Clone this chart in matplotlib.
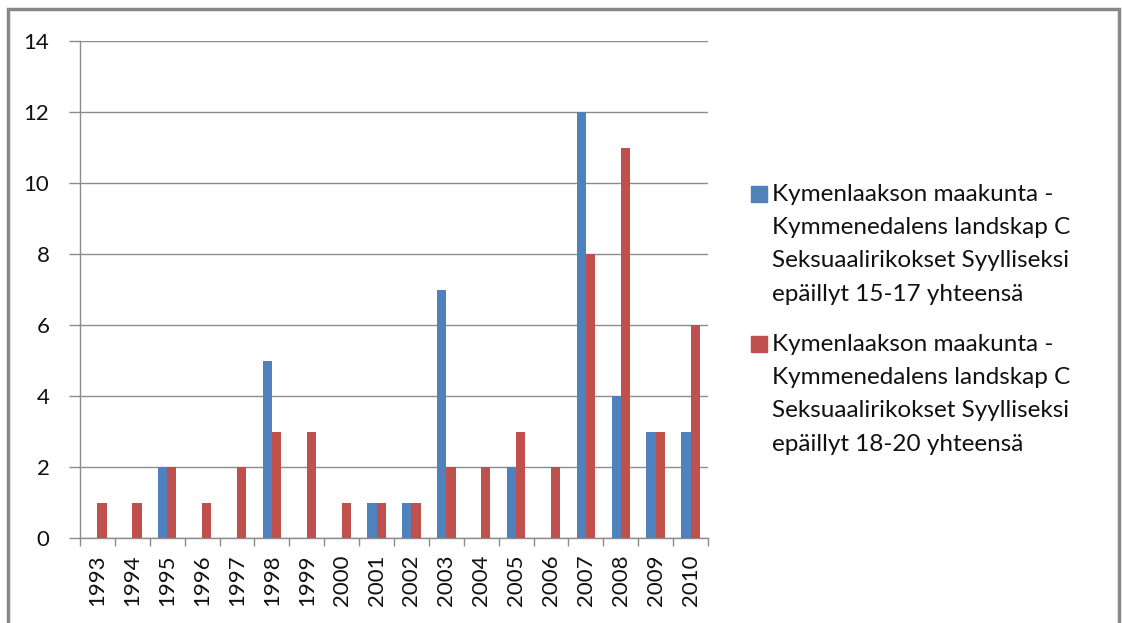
import numpy as np
import matplotlib
matplotlib.use("Agg")
import matplotlib.pyplot as plt
from matplotlib.patches import Rectangle

plt.rcParams['font.family'] = ['Lato', 'DejaVu Sans']

years = ['1993', '1994', '1995', '1996', '1997', '1998', '1999', '2000', '2001',
         '2002', '2003', '2004', '2005', '2006', '2007', '2008', '2009', '2010']
age_15_17 = [0, 0, 2, 0, 0, 5, 0, 0, 1, 1, 7, 0, 2, 0, 12, 4, 3, 3]
age_18_20 = [1, 1, 2, 1, 2, 3, 3, 1, 1, 1, 2, 2, 3, 2, 8, 11, 3, 6]
labels = ['Kymenlaakson maakunta -\nKymmenedalens landskap C\nSeksuaalirikokset Syylliseksi\nepäillyt 15-17 yhteensä',
          'Kymenlaakson maakunta -\nKymmenedalens landskap C\nSeksuaalirikokset Syylliseksi\nepäillyt 18-20 yhteensä']
colors = ['#4F81BD', '#C0504D']

fig = plt.figure(figsize=(11.22, 6.23), dpi=100)
# outer frame
fig.patches.append(Rectangle((8 / 1122, -0.1), 1111 / 1122, 1.1 - 9 / 623,
                             transform=fig.transFigure, fill=False,
                             edgecolor='#888888', linewidth=2.5))

ax = fig.add_axes([80 / 1122, 1 - 538 / 623, 628 / 1122, 497 / 623])
x = np.arange(len(years))
w = 0.265
ax.bar(x - w / 2, age_15_17, w, color=colors[0], zorder=3)
ax.bar(x + w / 2, age_18_20, w, color=colors[1], zorder=3)

ax.set_xlim(-0.5, len(years) - 0.5)
ax.set_ylim(0, 14)
ax.set_yticks(range(0, 15, 2))
ax.yaxis.grid(True, color='#8c8c8c', linewidth=1, zorder=0)
ax.set_xticks(x)
ax.set_xticklabels(years, rotation=90, fontsize=16, color='#111111')
ax.set_xticks(np.arange(-0.5, len(years), 1), minor=True)
ax.tick_params(axis='x', which='major', length=0, pad=12)
ax.tick_params(axis='x', which='minor', length=6, color='#8c8c8c', width=1)
ax.tick_params(axis='y', length=8, color='#8c8c8c', width=1, labelsize=16,
               labelcolor='#111111', pad=14)
for s in ['top', 'right']:
    ax.spines[s].set_visible(False)
for s in ['left', 'bottom']:
    ax.spines[s].set_color('#8c8c8c')
    ax.spines[s].set_linewidth(1)

# legend
for i, (lab, c) in enumerate(zip(labels, colors)):
    ytop = 184 + i * 150
    fig.patches.append(Rectangle((751 / 1122, 1 - (ytop + 18) / 623), 16 / 1122, 16 / 623,
                                 transform=fig.transFigure, color=c))
    fig.text(772 / 1122, 1 - ytop / 623, lab, fontsize=17.5, va='top', ha='left',
             color='#111111', linespacing=1.72)

fig.savefig('out.png', dpi=100)
